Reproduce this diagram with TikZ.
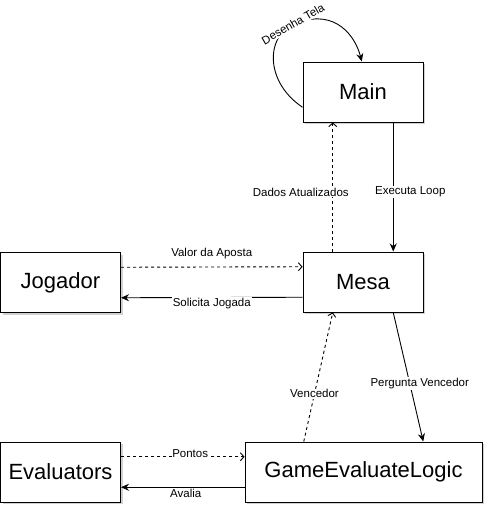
\documentclass[tikz,border=0pt]{standalone}
\usepackage{fontspec}
\setmainfont{Liberation Sans}
\usetikzlibrary{arrows.meta,calc,shadows}
\begin{document}
\begin{tikzpicture}[x=1pt,y=-1pt,
  box/.style={draw=black,line width=1pt,fill=white,minimum height=60pt,inner sep=0pt,
    font=\fontsize{22}{26}\selectfont,
    drop shadow={shadow xshift=2pt,shadow yshift=-2pt,fill=black!30,opacity=0.6}},
  lbl/.style={fill=white,inner sep=1pt,font=\fontsize{11.5}{13}\selectfont},
  solidarr/.style={line width=0.9pt,-{Stealth[length=8pt,width=7pt]}},
  dasharr/.style={line width=0.9pt,dash pattern=on 3pt off 3pt,-{Straight Barb[length=3.5pt,width=8pt]}}
]
\useasboundingbox (0,0) rectangle (494,514);
\node[box,minimum width=120pt] (main) at (363,92) {Main};
\node[box,minimum width=120pt] (mesa) at (363,282) {Mesa};
\node[box,minimum width=120pt] (jog) at (60.5,282.5) {Jogador};
\node[box,minimum width=120pt] (eval) at (60.5,472) {Evaluators};
\node[box,minimum width=237pt] (gel) at (363.5,472) {GameEvaluateLogic};

% Main -> Mesa
\coordinate (mA) at ($(main.south west)!0.75!(main.south east)$);
\coordinate (mB) at ($(mesa.north west)!0.75!(mesa.north east)$);
\draw[solidarr] (mA) -- node[lbl,pos=0.54,xshift=17pt] {Executa Loop} (mB);
% Mesa -> Main dashed
\coordinate (dA) at ($(mesa.north west)!0.25!(mesa.north east)$);
\coordinate (dB) at ($(main.south west)!0.25!(main.south east)$);
\draw[dasharr] (dA) -- node[lbl,pos=0.46,xshift=-32pt] {Dados Atualizados} (dB);

% Jogador <-> Mesa
\coordinate (j1) at ($(jog.north east)!0.25!(jog.south east)$);
\coordinate (j2) at ($(mesa.north west)!0.25!(mesa.south west)$);
\draw[dasharr] (j1) -- node[lbl,pos=0.5,yshift=13pt] {Valor da Aposta} (j2);
\coordinate (j3) at ($(mesa.north west)!0.75!(mesa.south west)$);
\coordinate (j4) at ($(jog.north east)!0.75!(jog.south east)$);
\draw[solidarr] (j3) -- node[lbl,pos=0.5,yshift=-6pt] {Solicita Jogada} (j4);

% Mesa -> GEL
\coordinate (g1) at ($(mesa.south west)!0.75!(mesa.south east)$);
\coordinate (g2) at ($(gel.north west)!0.751!(gel.north east)$);
\draw[solidarr] (g1) -- node[lbl,pos=0.55,xshift=10pt] {Pergunta Vencedor} (g2);
% GEL -> Mesa dashed
\coordinate (g3) at ($(gel.north west)!0.249!(gel.north east)$);
\coordinate (g4) at ($(mesa.south west)!0.25!(mesa.south east)$);
\draw[dasharr] (g3) -- node[lbl,pos=0.37] {Vencedor} (g4);

% Evaluators <-> GEL
\coordinate (e1) at ($(eval.north east)!0.25!(eval.south east)$);
\coordinate (e2) at ($(gel.north west)!0.25!(gel.south west)$);
\draw[dasharr] (e1) -- node[lbl,pos=0.56,yshift=3pt,inner sep=0.5pt] {Pontos} (e2);
\coordinate (e3) at ($(gel.north west)!0.75!(gel.south west)$);
\coordinate (e4) at ($(eval.north east)!0.75!(eval.south east)$);
\draw[solidarr] (e3) -- node[lbl,pos=0.5,yshift=-6pt,xshift=3pt,inner sep=0.5pt] {Avalia} (e4);

% Self loop on Main
\coordinate (s1) at ($(main.north west)!0.75!(main.south west)$);
\coordinate (s2) at ($(main.north west)!0.49!(main.north east)$);
\draw[line width=0.9pt,-{Stealth[length=8pt,width=7pt]}]
  (s1) .. controls (262,80) and (266,30) .. (300,22)
  .. controls (335,10) and (355,35) .. (s2);
\node[lbl,rotate=30] (dt) at (293,24) {Desenha Tela};
\end{tikzpicture}
\end{document}
